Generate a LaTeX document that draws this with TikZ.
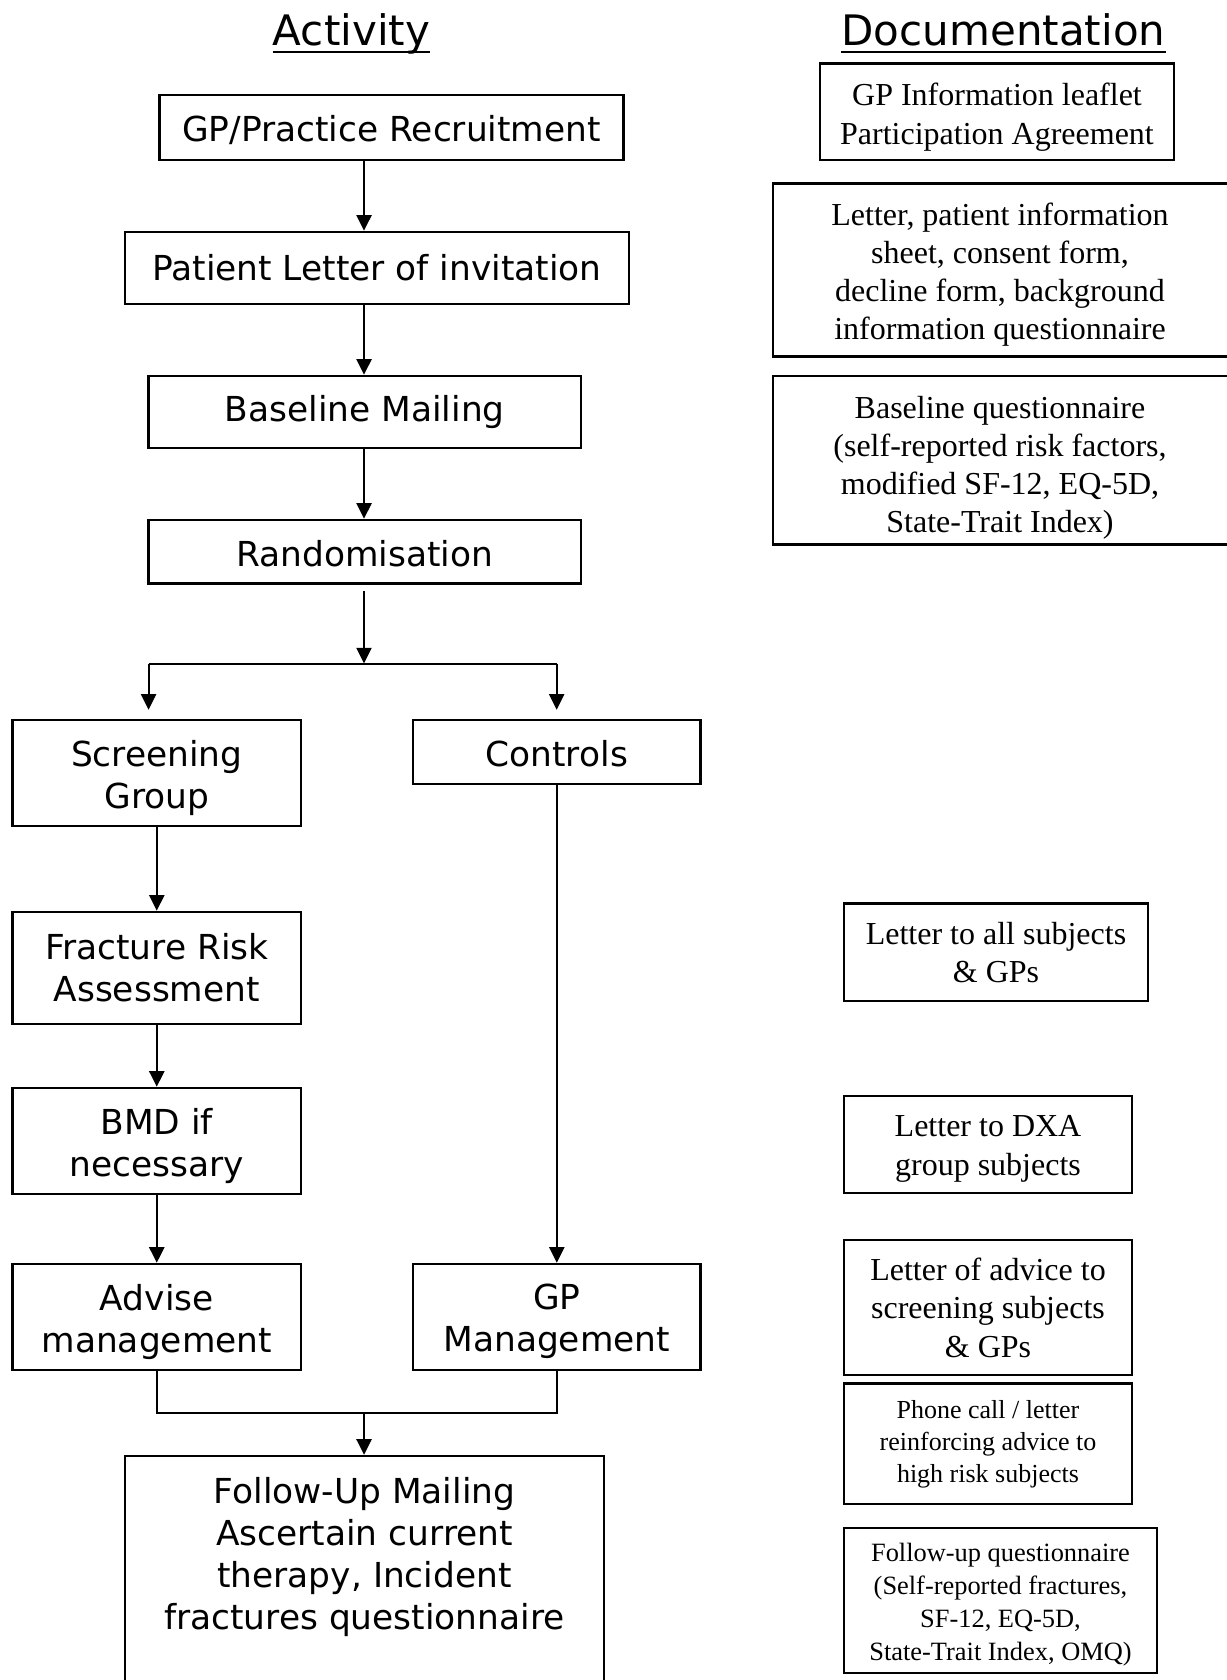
\documentclass[tikz,border=0pt]{standalone}
\usepackage{fontspec}
\setmainfont{Liberation Serif}
\newfontfamily\actfont{DejaVu Sans}
\usetikzlibrary{arrows.meta}
\newcommand{\padtop}[1]{\rule{0pt}{#1}}
\tikzset{
  abox/.style={draw, line width=1.2pt, inner sep=0pt, align=center, font=\actfont\fontsize{17.2}{21}\selectfont},
  atext/.style={inner sep=0pt, align=center, font=\actfont\fontsize{17.2}{21}\selectfont},
  dbox/.style={draw, line width=1.2pt, inner sep=0pt, align=center, font=\fontsize{16}{19.2}\selectfont},
  dtext/.style={inner sep=0pt, align=center, font=\fontsize{16}{19}\selectfont},
  sbox/.style={draw, line width=1.2pt, inner sep=0pt, align=center, font=\fontsize{13}{16}\selectfont},
  head/.style={inner sep=0pt, anchor=base, font=\actfont\fontsize{21}{25}\selectfont},
  uline/.style={line width=1.3pt},
  link/.style={line width=1pt},
  arr/.style={line width=1pt, -{Triangle[length=7.8pt,width=7.5pt]}}
}
\begin{document}
\begin{tikzpicture}[x=0.5pt,y=-0.5pt]
\useasboundingbox (0,0) rectangle (1226,1680);
% headings
\node[head] (act) at (351.5,46) {Activity};
\node[head] (doc) at (1003.5,46) {Documentation};
\draw[uline] ([yshift=-3pt]act.base west) -- ([yshift=-3pt]act.base east);
\draw[uline] ([yshift=-3pt]doc.base west) -- ([yshift=-3pt]doc.base east);
% activity boxes
\node[abox, minimum width=232pt, minimum height=32.5pt] (a1) at (391.5,127.5) {\padtop{15.1pt}GP/Practice Recruitment};
\node[abox, minimum width=252pt, minimum height=36pt] (a2) at (377,268) {Patient Letter of invitation};
\node[abox, minimum width=216.2pt, minimum height=36pt] (a3) at (364.8,412) {Baseline Mailing};
\node[abox, minimum width=216.2pt, minimum height=31.8pt] (a4) at (364.8,551.8) {\padtop{15.1pt}Randomisation};
\node[abox, minimum width=144.25pt, minimum height=53pt] (sg) at (156.75,773) {\padtop{17.9pt}Screening\\Group};
\node[abox, minimum width=143.75pt, minimum height=32pt] (ct) at (556.75,752) {\padtop{15.1pt}Controls};
\node[abox, minimum width=144.25pt, minimum height=56pt] (fr) at (156.75,968) {Fracture Risk\\Assessment};
\node[abox, minimum width=144.25pt, minimum height=53pt] (bmd) at (156.75,1141) {\padtop{17.9pt}BMD if\\necessary};
\node[abox, minimum width=144.25pt, minimum height=53pt] (adv) at (156.75,1317) {\padtop{17.9pt}Advise\\management};
\node[abox, minimum width=143.75pt, minimum height=53pt] (gpm) at (556.75,1317) {\padtop{17.5pt}GP\\Management};
\node[abox, minimum width=239.5pt, minimum height=113pt] (fu) at (364.5,1569) {};
\node[atext] (fut) at (364.5,1556.5)
  {Follow-Up Mailing\\Ascertain current\\therapy, Incident\\fractures questionnaire};
% documentation boxes
\node[dbox, minimum width=177pt, minimum height=48.2pt] (d1) at (997,111.8) {\padtop{16.8pt}GP Information leaflet\\Participation Agreement};
\node[dbox, minimum width=229.25pt, minimum height=86.4pt] (d2) at (1002,270) {};
\node[dtext] (d2t) at (1000,274.3)
  {Letter, patient information\\sheet, consent form,\\decline form, background\\information questionnaire};
\node[dbox, minimum width=229.25pt, minimum height=84.45pt] (d3) at (1002,460.15) {};
\node[dtext] (d3t) at (1000,467.6)
  {Baseline questionnaire\\(self-reported risk factors,\\modified SF-12, EQ-5D,\\State-Trait Index)};
\node[dbox, minimum width=152pt, minimum height=48.7pt] (d4) at (996,952.3) {Letter to all subjects\\\& GPs};
\node[dbox, minimum width=144pt, minimum height=48.65pt] (d5) at (988,1144.35) {\padtop{15.2pt}Letter to DXA\\group subjects};
\node[dbox, minimum width=144pt, minimum height=67.5pt] (d6) at (988,1307.5) {Letter of advice to\\screening subjects\\\& GPs};
\node[sbox, minimum width=144pt, minimum height=60.2pt] (d7) at (988,1443.8) {Phone call / letter\\reinforcing advice to\\high risk subjects};
\node[sbox, minimum width=156.5pt, minimum height=72.5pt, font=\fontsize{13.2}{16.4}\selectfont] (d8) at (1000.5,1600.5) {\padtop{13.3pt}Follow-up questionnaire\\(Self-reported fractures,\\SF-12, EQ-5D,\\State-Trait Index, OMQ)};
% connectors
\coordinate (cx) at (364,0);
\coordinate (rs) at (364,591);
\coordinate (sp) at (364,663.5);
\coordinate (sl) at (148.6,663.5);
\coordinate (sr) at (556.7,663.5);
\coordinate (jn) at (364,1413);
\draw[arr] (a1.south -| cx) -- (a2.north -| cx);
\draw[arr] (a2.south -| cx) -- (a3.north -| cx);
\draw[arr] (a3.south -| cx) -- (a4.north -| cx);
\draw[arr] (rs) -- (sp);
\draw[link] (sl) -- (sr);
\draw[arr, shorten >=4.5pt] (sl) -- (sl |- sg.north);
\draw[arr, shorten >=4.5pt] (sr) -- (sr |- ct.north);
\draw[arr] (sg.south) -- (fr.north);
\draw[arr] (fr.south) -- (bmd.north);
\draw[arr] (bmd.south) -- (adv.north);
\draw[arr] (ct.south) -- (gpm.north);
\draw[link] (adv.south) -- (adv.south |- jn) -- (gpm.south |- jn) -- (gpm.south);
\draw[arr] (jn) -- (jn |- fu.north);
\end{tikzpicture}
\end{document}
